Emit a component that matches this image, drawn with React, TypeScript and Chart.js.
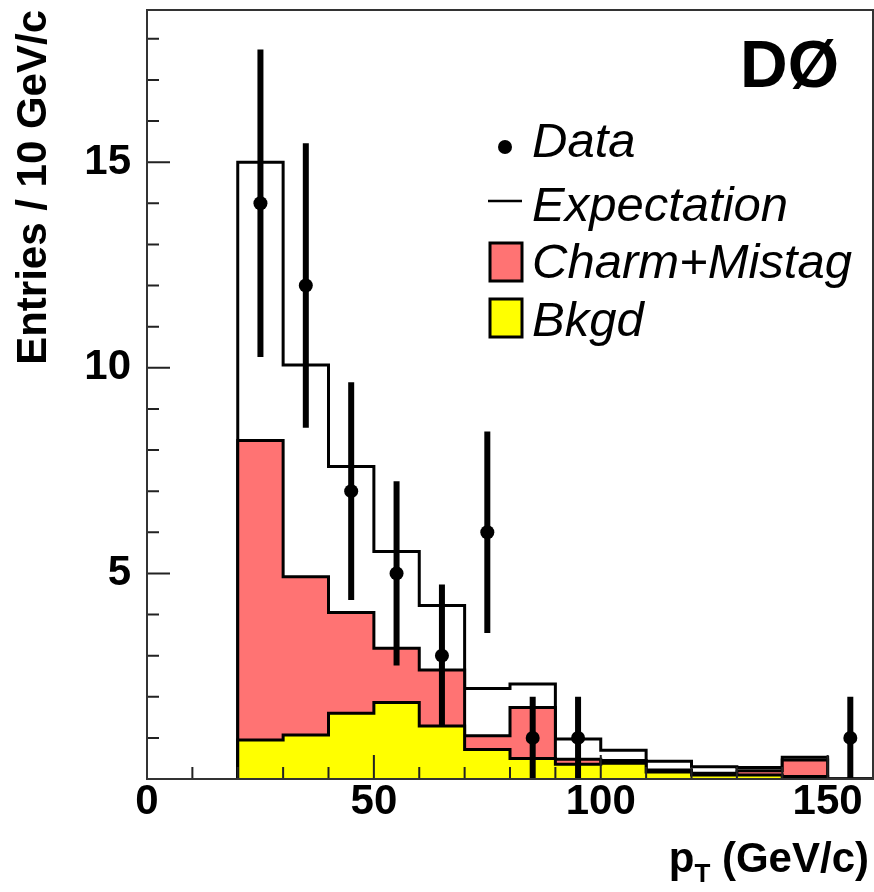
import React, { useEffect, useRef } from 'react';
import { Chart, registerables } from 'chart.js';

Chart.register(...registerables);

// Bin edges (GeV/c)
const binLow = [20, 30, 40, 50, 60, 70, 80, 90, 100, 110, 120, 130, 140, 150];
const binHigh = [30, 40, 50, 60, 70, 80, 90, 100, 110, 120, 130, 140, 150, 160];

// Series (entries per bin)
const bkgd = [0.95, 1.07, 1.6, 1.86, 1.29, 0.72, 0.5, 0.36, 0.38, 0.17, 0.1, 0.1, 0.06, 0];
const charmMistag = [7.28, 3.85, 2.45, 1.32, 1.36, 0.33, 1.24, 0.12, 0.07, 0.05, 0.04, 0.1, 0.4, 0];
const expectation = [15.0, 10.07, 7.6, 5.53, 4.22, 2.2, 2.31, 0.97, 0.7, 0.43, 0.3, 0.28, 0.53, 0];
const dataCounts = [14, 12, 7, 5, 3, 6, 1, 1, 0, 0, 0, 0, 0, 1];
const dataErr = [3.74, 3.46, 2.65, 2.24, 1.73, 2.45, 1, 1, 0, 0, 0, 0, 0, 1];

// Axis ticks
const xTickValues = [0, 50, 100, 150];
const yTickValues = [5, 10, 15];
const xMinorTicks = [10, 20, 30, 40, 60, 70, 80, 90, 110, 120, 130, 140];
const yMinorTicks = [1, 2, 3, 4, 6, 7, 8, 9, 11, 12, 13, 14, 16, 17, 18];

const legendLabels = ['Data', 'Expectation', 'Charm+Mistag', 'Bkgd'];

const RED = '#ff7373';
const YELLOW = '#ffff00';
const FONT = '"Liberation Sans", Arial, Helvetica, sans-serif';

function stepPoints(vals: number[]) {
  const pts: { x: number; y: number }[] = [{ x: binLow[0], y: 0 }];
  vals.forEach((v, i) => pts.push({ x: binLow[i], y: v }));
  const last = binHigh[binHigh.length - 1];
  pts.push({ x: last, y: vals[vals.length - 1] });
  pts.push({ x: last, y: 0 });
  return pts;
}

const redTop = bkgd.map((b, i) => b + charmMistag[i]);

const overlayPlugin = {
  id: 'overlay',
  afterDatasetsDraw(chart: any) {
    const { ctx, chartArea: a, scales } = chart;
    const x = scales.x;
    const y = scales.y;
    ctx.save();
    // error bars
    ctx.strokeStyle = '#000';
    ctx.lineWidth = 6;
    ctx.lineCap = 'butt';
    dataCounts.forEach((n, i) => {
      if (n <= 0) return;
      const cx = x.getPixelForValue((binLow[i] + binHigh[i]) / 2);
      ctx.beginPath();
      ctx.moveTo(cx, y.getPixelForValue(Math.max(0, n - dataErr[i])));
      ctx.lineTo(cx, y.getPixelForValue(n + dataErr[i]));
      ctx.stroke();
    });
    // ticks
    ctx.strokeStyle = '#222';
    ctx.lineWidth = 2;
    ctx.beginPath();
    xTickValues.forEach((v) => {
      const px = x.getPixelForValue(v);
      ctx.moveTo(px, a.bottom);
      ctx.lineTo(px, a.bottom - 24);
    });
    xMinorTicks.forEach((v) => {
      const px = x.getPixelForValue(v);
      ctx.moveTo(px, a.bottom);
      ctx.lineTo(px, a.bottom - 12);
    });
    yTickValues.forEach((v) => {
      const py = y.getPixelForValue(v);
      ctx.moveTo(a.left, py);
      ctx.lineTo(a.left + 23, py);
    });
    yMinorTicks.forEach((v) => {
      const py = y.getPixelForValue(v);
      ctx.moveTo(a.left, py);
      ctx.lineTo(a.left + 12, py);
    });
    ctx.stroke();
    // frame
    ctx.strokeStyle = '#333';
    ctx.lineWidth = 2;
    ctx.strokeRect(a.left, a.top, a.right - a.left, a.bottom - a.top);
    ctx.restore();
  },
  afterDraw(chart: any) {
    const { ctx } = chart;
    ctx.save();
    // experiment label
    ctx.fillStyle = '#000';
    ctx.font = `bold 66px ${FONT}`;
    ctx.textAlign = 'left';
    ctx.textBaseline = 'alphabetic';
    ctx.fillText('DØ', 740, 87);

    // legend
    const baselines = [157, 221, 278, 336];
    ctx.font = `italic 49px ${FONT}`;
    legendLabels.forEach((lab, i) => ctx.fillText(lab, 532, baselines[i]));
    // symbols
    ctx.beginPath();
    ctx.arc(505, 147, 7, 0, Math.PI * 2);
    ctx.fill();
    ctx.strokeStyle = '#000';
    ctx.lineWidth = 2.5;
    ctx.beginPath();
    ctx.moveTo(488, 201);
    ctx.lineTo(522, 201);
    ctx.stroke();
    ctx.lineWidth = 3;
    ctx.fillStyle = RED;
    ctx.fillRect(490, 243, 32, 38);
    ctx.strokeRect(490, 243, 32, 38);
    ctx.fillStyle = YELLOW;
    ctx.fillRect(490, 299, 32, 38);
    ctx.strokeRect(490, 299, 32, 38);

    // x-axis title with subscript
    ctx.fillStyle = '#000';
    const big = `bold 42px ${FONT}`;
    const small = `bold 26px ${FONT}`;
    const rest = ' (GeV/c)';
    ctx.font = big;
    const wRest = ctx.measureText(rest).width;
    const wP = ctx.measureText('p').width;
    ctx.font = small;
    const wT = ctx.measureText('T').width;
    const right = 869;
    const base = 872;
    let xs = right - wRest - wT - wP;
    ctx.font = big;
    ctx.fillText('p', xs, base);
    xs += wP;
    ctx.font = small;
    ctx.fillText('T', xs, base + 10);
    xs += wT;
    ctx.font = big;
    ctx.fillText(rest, xs, base);
    ctx.restore();
  },
};

export default function App() {
  const ref = useRef<HTMLCanvasElement>(null);
  useEffect(() => {
    document.body.style.margin = '0';
    const canvas = ref.current;
    if (!canvas) return;
    const dataPts = dataCounts
      .map((n, i) => ({ x: (binLow[i] + binHigh[i]) / 2, y: n }))
      .filter((p) => p.y > 0);
    const histCommon = {
      stepped: true,
      fill: 'origin',
      borderColor: '#000',
      borderWidth: 3,
      pointRadius: 0,
      pointHoverRadius: 0,
    };
    const chart = new Chart(canvas, {
      type: 'line',
      data: {
        datasets: [
          {
            label: 'Data',
            data: dataPts,
            showLine: false,
            pointRadius: 7,
            pointBackgroundColor: '#000',
            pointBorderWidth: 0,
            borderColor: '#000',
          } as any,
          { label: 'Bkgd', data: stepPoints(bkgd), backgroundColor: YELLOW, ...histCommon } as any,
          { label: 'Charm+Mistag', data: stepPoints(redTop), backgroundColor: RED, ...histCommon } as any,
          { label: 'Expectation', data: stepPoints(expectation), backgroundColor: '#ffffff', ...histCommon } as any,
        ],
      },
      options: {
        animation: false,
        responsive: false,
        devicePixelRatio: 1,
        layout: { autoPadding: false, padding: { top: 10, right: 1, left: 0, bottom: 0 } },
        plugins: { legend: { display: false }, tooltip: { enabled: false } },
        events: [],
        scales: {
          x: {
            type: 'linear',
            min: 0,
            max: 160,
            grid: { display: false },
            border: { display: false },
            afterBuildTicks: (s: any) => {
              s.ticks = xTickValues.map((v) => ({ value: v }));
            },
            afterFit: (s: any) => {
              s.height = 113;
              s.paddingLeft = 0;
              s.paddingRight = 0;
            },
            ticks: {
              font: { family: FONT, weight: 'bold', size: 42 },
              color: '#000',
              padding: -10,
              maxRotation: 0,
              autoSkip: false,
            },
          },
          y: {
            type: 'linear',
            min: 0,
            max: 18.7,
            grid: { display: false },
            border: { display: false },
            afterBuildTicks: (s: any) => {
              s.ticks = yTickValues.map((v) => ({ value: v }));
            },
            afterFit: (s: any) => {
              s.width = 147;
              s.paddingTop = 0;
              s.paddingBottom = 0;
            },
            ticks: {
              font: { family: FONT, weight: 'bold', size: 42 },
              color: '#000',
              padding: 8,
              autoSkip: false,
            },
            title: {
              display: true,
              text: 'Entries / 10 GeV/c',
              align: 'end',
              color: '#000',
              font: { family: FONT, weight: 'bold', size: 42 },
              padding: { top: 9, bottom: 0 },
            },
          },
        },
      } as any,
      plugins: [overlayPlugin],
    });
    return () => chart.destroy();
  }, []);
  return <canvas ref={ref} width={874} height={892} style={{ display: 'block' }} />;
}
